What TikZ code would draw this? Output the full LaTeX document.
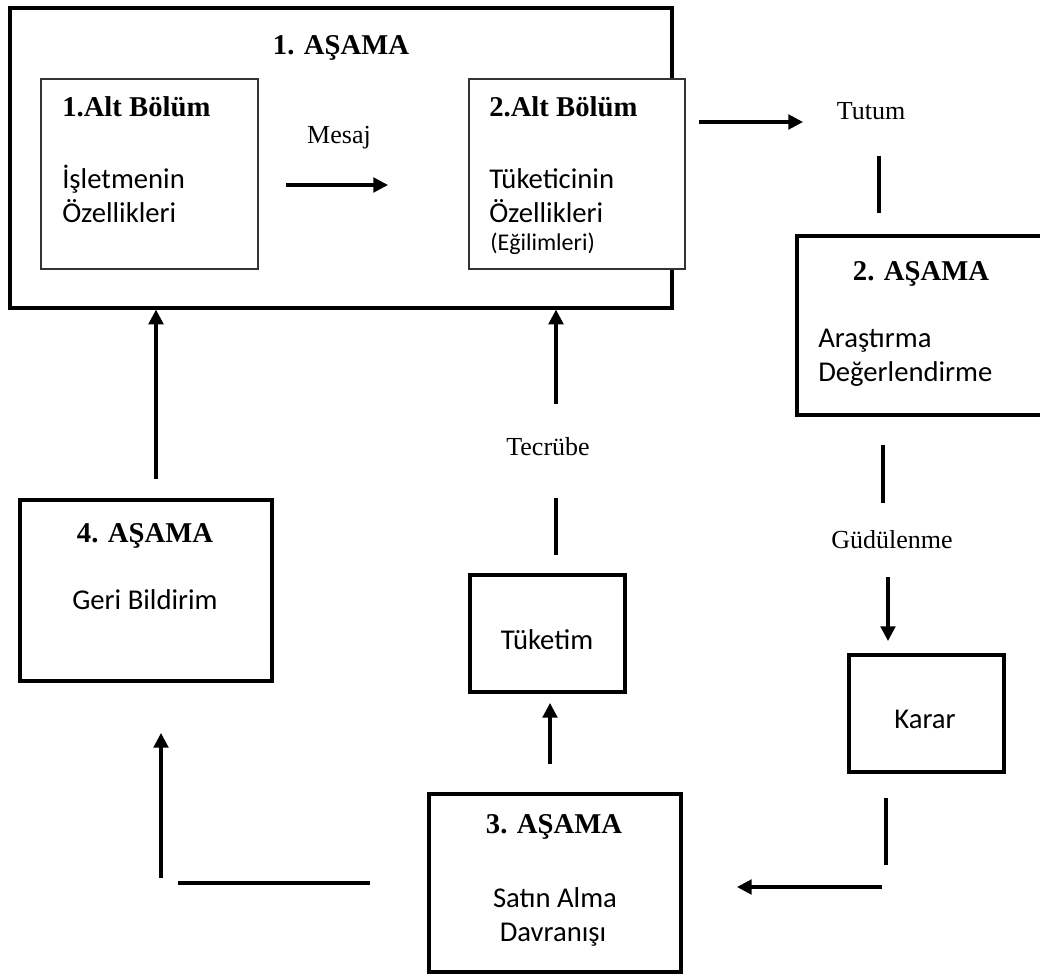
\documentclass[tikz,border=0pt]{standalone}
\usepackage{fontspec}
\setmainfont{Liberation Serif}
\newfontfamily\bodyfont{Carlito}
\usetikzlibrary{arrows.meta, positioning}
\tikzset{
    stagebox/.style={rectangle, draw=black, line width=2.4pt, fill=white, inner sep=0pt},
    subbox/.style={rectangle, draw=black!80, line width=0.9pt, fill=white, inner sep=0pt},
    stagetitle/.style={anchor=base, inner sep=0pt, font=\fontsize{21.5}{25}\selectfont\bfseries},
    bodytext/.style={anchor=base west, inner sep=0pt, font=\bodyfont\fontsize{21.5}{25}\selectfont},
    bodycenter/.style={anchor=base, inner sep=0pt, font=\bodyfont\fontsize{21.5}{25}\selectfont},
    flowlabel/.style={anchor=base, inner sep=0pt, font=\fontsize{19.5}{23}\selectfont},
    arrow/.style={-{Triangle[length=11pt, width=11pt]}, line width=2.3pt},
    link/.style={line width=2.3pt},
}

\begin{document}
\begin{tikzpicture}[x=0.75pt, y=-0.75pt]
    \useasboundingbox (0,0) rectangle (1040,974);

    % 1. asama with its two parts
    \node[stagebox, minimum width=496.5pt, minimum height=225pt] (stage1) at (341,158) {};
    \node[subbox, minimum width=162.75pt, minimum height=142.5pt] (sub1) at (149.5,174) {};
    \node[subbox, minimum width=162pt, minimum height=142.5pt] (sub2) at (577,174) {};
    \node[stagetitle] (stage1title) at (341,55) {1. AŞAMA};
    \node[stagetitle, anchor=base west] (sub1title) at (62,117) {1.Alt Bölüm};
    \node[bodytext] (sub1a) at (62,188) {İşletmenin};
    \node[bodytext] (sub1b) at (62,222) {Özellikleri};
    \node[stagetitle, anchor=base west] (sub2title) at (489,117) {2.Alt Bölüm};
    \node[bodytext] (sub2a) at (489,188) {Tüketicinin};
    \node[bodytext] (sub2b) at (489,222) {Özellikleri};
    \node[bodytext, font=\bodyfont\fontsize{18}{21}\selectfont] (sub2c) at (490,250) {(Eğilimleri)};
    \node[flowlabel] (mesaj) at (339,143) {Mesaj};
    \coordinate (mesajL) at (286,185);
    \coordinate (mesajR) at (388,185);
    \draw[arrow] (mesajL) -- (mesajR);

    % 2. asama
    \node[flowlabel] (tutum) at (871,120) {Tutum};
    \coordinate (tutumL) at (699,122);
    \coordinate (tutumR) at (803,122);
    \draw[arrow] (tutumL) -- (tutumR);
    \coordinate (tutumA) at (879,156);
    \coordinate (tutumB) at (879,213);
    \draw[link] (tutumA) -- (tutumB);
    \node[stagebox, minimum width=186.75pt, minimum height=134.25pt] (stage2) at (921.5,325.5) {};
    \node[stagetitle] (stage2title) at (921,280) {2. AŞAMA};
    \node[bodytext] (stage2a) at (818,347) {Araştırma};
    \node[bodytext] (stage2b) at (818,381) {Değerlendirme};

    % karar
    \coordinate (gudA) at (883,445);
    \coordinate (gudB) at (883,503);
    \draw[link] (gudA) -- (gudB);
    \node[flowlabel] (gudulenme) at (892,548) {Güdülenme};
    \node[stagebox, minimum width=116.25pt, minimum height=87.75pt] (karar) at (926.5,713.5) {};
    \node[bodycenter] (karartext) at (925,728) {Karar};
    \coordinate (gudC) at (888,577);
    \coordinate (gudD) at (888,641);
    \draw[arrow] (gudC) -- (gudD);
    \coordinate (kararA) at (886,798);
    \coordinate (kararB) at (886,865);
    \draw[link] (kararA) -- (kararB);

    % 3. asama
    \node[stagebox, minimum width=189pt, minimum height=133.5pt] (stage3) at (555,883) {};
    \node[stagetitle] (stage3title) at (554,833) {3. AŞAMA};
    \node[bodycenter] (stage3a) at (555,907) {Satın Alma};
    \node[bodycenter] (stage3b) at (553,941) {Davranışı};
    \coordinate (buyR) at (882,887);
    \coordinate (buyL) at (737,887);
    \draw[arrow] (buyR) -- (buyL);

    % tuketim and tecrube
    \node[stagebox, minimum width=116.25pt, minimum height=87.75pt] (tuketim) at (547.5,633.5) {};
    \node[bodycenter] (tuketimtext) at (547,649) {Tüketim};
    \coordinate (useA) at (550,764);
    \coordinate (useB) at (550,703);
    \draw[arrow] (useA) -- (useB);
    \coordinate (tecA) at (556,498);
    \coordinate (tecB) at (556,555);
    \draw[link] (tecA) -- (tecB);
    \node[flowlabel] (tecrube) at (548,455) {Tecrübe};
    \coordinate (tecC) at (556,404);
    \draw[arrow] (tecC) -- (tecC |- stage1.south);

    % 4. asama
    \node[stagebox, minimum width=189pt, minimum height=135.75pt] (stage4) at (146,590.5) {};
    \node[stagetitle] (stage4title) at (145,542) {4. AŞAMA};
    \node[bodycenter] (stage4a) at (145,609) {Geri Bildirim};
    \coordinate (backA) at (370,883);
    \coordinate (backB) at (178,883);
    \draw[link] (backA) -- (backB);
    \coordinate (backC) at (161,878);
    \coordinate (backD) at (161,733);
    \draw[arrow] (backC) -- (backD);
    \coordinate (fbA) at (156,479);
    \draw[arrow] (fbA) -- (fbA |- stage1.south);
\end{tikzpicture}
\end{document}
